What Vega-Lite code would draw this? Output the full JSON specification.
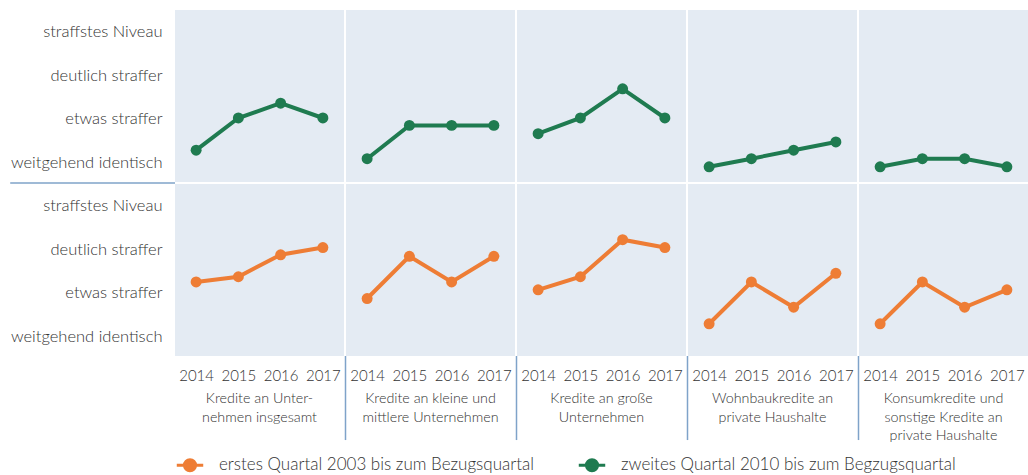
{
  "$schema": "https://vega.github.io/schema/vega-lite/v6.json",
  "padding": {"left": 5, "top": 10, "right": 0, "bottom": 0},
  "background": "white",
  "bounds": "flush",
  "data": {"values": [
    {"series": "zweites Quartal 2010 bis zum Begzugsquartal", "cat": "Kredite an Unter-|nehmen insgesamt", "year": 2014, "v": 1.28},
    {"series": "zweites Quartal 2010 bis zum Begzugsquartal", "cat": "Kredite an Unter-|nehmen insgesamt", "year": 2015, "v": 2.02},
    {"series": "zweites Quartal 2010 bis zum Begzugsquartal", "cat": "Kredite an Unter-|nehmen insgesamt", "year": 2016, "v": 2.36},
    {"series": "zweites Quartal 2010 bis zum Begzugsquartal", "cat": "Kredite an Unter-|nehmen insgesamt", "year": 2017, "v": 2.02},
    {"series": "zweites Quartal 2010 bis zum Begzugsquartal", "cat": "Kredite an kleine und|mittlere Unternehmen", "year": 2014, "v": 1.085},
    {"series": "zweites Quartal 2010 bis zum Begzugsquartal", "cat": "Kredite an kleine und|mittlere Unternehmen", "year": 2015, "v": 1.85},
    {"series": "zweites Quartal 2010 bis zum Begzugsquartal", "cat": "Kredite an kleine und|mittlere Unternehmen", "year": 2016, "v": 1.85},
    {"series": "zweites Quartal 2010 bis zum Begzugsquartal", "cat": "Kredite an kleine und|mittlere Unternehmen", "year": 2017, "v": 1.85},
    {"series": "zweites Quartal 2010 bis zum Begzugsquartal", "cat": "Kredite an große|Unternehmen", "year": 2014, "v": 1.66},
    {"series": "zweites Quartal 2010 bis zum Begzugsquartal", "cat": "Kredite an große|Unternehmen", "year": 2015, "v": 2.02},
    {"series": "zweites Quartal 2010 bis zum Begzugsquartal", "cat": "Kredite an große|Unternehmen", "year": 2016, "v": 2.69},
    {"series": "zweites Quartal 2010 bis zum Begzugsquartal", "cat": "Kredite an große|Unternehmen", "year": 2017, "v": 2.02},
    {"series": "zweites Quartal 2010 bis zum Begzugsquartal", "cat": "Wohnbaukredite an|private Haushalte", "year": 2014, "v": 0.9},
    {"series": "zweites Quartal 2010 bis zum Begzugsquartal", "cat": "Wohnbaukredite an|private Haushalte", "year": 2015, "v": 1.085},
    {"series": "zweites Quartal 2010 bis zum Begzugsquartal", "cat": "Wohnbaukredite an|private Haushalte", "year": 2016, "v": 1.28},
    {"series": "zweites Quartal 2010 bis zum Begzugsquartal", "cat": "Wohnbaukredite an|private Haushalte", "year": 2017, "v": 1.47},
    {"series": "zweites Quartal 2010 bis zum Begzugsquartal", "cat": "Konsumkredite und|sonstige Kredite an|private Haushalte", "year": 2014, "v": 0.9},
    {"series": "zweites Quartal 2010 bis zum Begzugsquartal", "cat": "Konsumkredite und|sonstige Kredite an|private Haushalte", "year": 2015, "v": 1.085},
    {"series": "zweites Quartal 2010 bis zum Begzugsquartal", "cat": "Konsumkredite und|sonstige Kredite an|private Haushalte", "year": 2016, "v": 1.085},
    {"series": "zweites Quartal 2010 bis zum Begzugsquartal", "cat": "Konsumkredite und|sonstige Kredite an|private Haushalte", "year": 2017, "v": 0.9},
    {"series": "erstes Quartal 2003 bis zum Bezugsquartal", "cat": "Kredite an Unter-|nehmen insgesamt", "year": 2014, "v": 2.25},
    {"series": "erstes Quartal 2003 bis zum Bezugsquartal", "cat": "Kredite an Unter-|nehmen insgesamt", "year": 2015, "v": 2.37},
    {"series": "erstes Quartal 2003 bis zum Bezugsquartal", "cat": "Kredite an Unter-|nehmen insgesamt", "year": 2016, "v": 2.875},
    {"series": "erstes Quartal 2003 bis zum Bezugsquartal", "cat": "Kredite an Unter-|nehmen insgesamt", "year": 2017, "v": 3.04},
    {"series": "erstes Quartal 2003 bis zum Bezugsquartal", "cat": "Kredite an kleine und|mittlere Unternehmen", "year": 2014, "v": 1.87},
    {"series": "erstes Quartal 2003 bis zum Bezugsquartal", "cat": "Kredite an kleine und|mittlere Unternehmen", "year": 2015, "v": 2.84},
    {"series": "erstes Quartal 2003 bis zum Bezugsquartal", "cat": "Kredite an kleine und|mittlere Unternehmen", "year": 2016, "v": 2.25},
    {"series": "erstes Quartal 2003 bis zum Bezugsquartal", "cat": "Kredite an kleine und|mittlere Unternehmen", "year": 2017, "v": 2.84},
    {"series": "erstes Quartal 2003 bis zum Bezugsquartal", "cat": "Kredite an große|Unternehmen", "year": 2014, "v": 2.07},
    {"series": "erstes Quartal 2003 bis zum Bezugsquartal", "cat": "Kredite an große|Unternehmen", "year": 2015, "v": 2.37},
    {"series": "erstes Quartal 2003 bis zum Bezugsquartal", "cat": "Kredite an große|Unternehmen", "year": 2016, "v": 3.22},
    {"series": "erstes Quartal 2003 bis zum Bezugsquartal", "cat": "Kredite an große|Unternehmen", "year": 2017, "v": 3.04},
    {"series": "erstes Quartal 2003 bis zum Bezugsquartal", "cat": "Wohnbaukredite an|private Haushalte", "year": 2014, "v": 1.29},
    {"series": "erstes Quartal 2003 bis zum Bezugsquartal", "cat": "Wohnbaukredite an|private Haushalte", "year": 2015, "v": 2.25},
    {"series": "erstes Quartal 2003 bis zum Bezugsquartal", "cat": "Wohnbaukredite an|private Haushalte", "year": 2016, "v": 1.67},
    {"series": "erstes Quartal 2003 bis zum Bezugsquartal", "cat": "Wohnbaukredite an|private Haushalte", "year": 2017, "v": 2.45},
    {"series": "erstes Quartal 2003 bis zum Bezugsquartal", "cat": "Konsumkredite und|sonstige Kredite an|private Haushalte", "year": 2014, "v": 1.29},
    {"series": "erstes Quartal 2003 bis zum Bezugsquartal", "cat": "Konsumkredite und|sonstige Kredite an|private Haushalte", "year": 2015, "v": 2.25},
    {"series": "erstes Quartal 2003 bis zum Bezugsquartal", "cat": "Konsumkredite und|sonstige Kredite an|private Haushalte", "year": 2016, "v": 1.67},
    {"series": "erstes Quartal 2003 bis zum Bezugsquartal", "cat": "Konsumkredite und|sonstige Kredite an|private Haushalte", "year": 2017, "v": 2.07}
  ]},
  "facet": {
    "row": {
      "field": "series", "type": "nominal",
      "sort": ["zweites Quartal 2010 bis zum Begzugsquartal", "erstes Quartal 2003 bis zum Bezugsquartal"],
      "header": {"labels": false, "title": null}
    },
    "column": {
      "field": "cat", "type": "nominal",
      "sort": ["Kredite an Unter-|nehmen insgesamt", "Kredite an kleine und|mittlere Unternehmen", "Kredite an große|Unternehmen", "Wohnbaukredite an|private Haushalte", "Konsumkredite und|sonstige Kredite an|private Haushalte"],
      "header": {
        "title": null,
        "labelOrient": "bottom",
        "labelExpr": "split(datum.value, '|')",
        "labelFont": "Lato",
        "labelFontWeight": 300,
        "labelFontSize": 14.3,
        "labelColor": "#333333",
        "labelLineHeight": 18.5,
        "labelPadding": 9,
        "labelBaseline": "top"
      }
    }
  },
  "spacing": {"row": 2, "column": 2},
  "spec": {
    "width": 169,
    "height": 172,
    "layer": [
      {
        "mark": {"type": "line", "strokeWidth": 4},
        "encoding": {
          "x": {"field": "year", "type": "quantitative", "scale": {"domain": [2013.5, 2017.5], "nice": false, "zero": false},
            "axis": {"values": [2014, 2015, 2016, 2017], "format": "d", "title": null}},
          "y": {"field": "v", "type": "quantitative", "scale": {"domain": [0.55, 4.5], "nice": false, "zero": false},
            "axis": {"values": [1, 2, 3, 4], "title": null,
              "labelExpr": "datum.value == 1 ? 'weitgehend identisch' : datum.value == 2 ? 'etwas straffer' : datum.value == 3 ? 'deutlich straffer' : 'straffstes Niveau'"}},
          "color": {"field": "series", "type": "nominal",
            "scale": {"domain": ["erstes Quartal 2003 bis zum Bezugsquartal", "zweites Quartal 2010 bis zum Begzugsquartal"], "range": ["#ee7d35", "#1f7b50"]},
            "legend": {
              "symbolType": "M-1,0L1,0M-0.42,0A0.42,0.42 0 1,1 0.42,0A0.42,0.42 0 1,1 -0.42,0Z",
              "encode": {"symbols": {"update": {"fill": {"scale": "color", "field": "value"}, "stroke": {"scale": "color", "field": "value"}, "strokeWidth": {"value": 3}, "opacity": {"value": 1}}}}
            }}
        }
      },
      {
        "mark": {"type": "point", "filled": true, "size": 120, "opacity": 1},
        "encoding": {
          "x": {"field": "year", "type": "quantitative"},
          "y": {"field": "v", "type": "quantitative"},
          "color": {"field": "series", "type": "nominal"}
        }
      },
      {
        "transform": [
          {"filter": "datum.year == 2017 && datum.series == 'erstes Quartal 2003 bis zum Bezugsquartal' && indexof(datum.cat, 'Konsum') < 0"}
        ],
        "mark": {"type": "rule", "color": "#7fa3c9", "strokeWidth": 1.5, "clip": false, "xOffset": 1.5},
        "encoding": {
          "x": {"datum": 2017.5},
          "y": {"datum": 0.55},
          "y2": {"datum": -1.38}
        }
      },
      {
        "transform": [
          {"filter": "datum.year == 2014 && datum.series == 'zweites Quartal 2010 bis zum Begzugsquartal' && indexof(datum.cat, 'Unter-|') >= 0"}
        ],
        "mark": {"type": "rule", "color": "#7fa3c9", "strokeWidth": 1.5, "clip": false, "yOffset": 1},
        "encoding": {
          "x": {"datum": 2009.6},
          "x2": {"datum": 2013.5},
          "y": {"datum": 0.55}
        }
      }
    ]
  },
  "resolve": {"scale": {"x": "shared", "y": "shared"}},
  "config": {
    "view": {"fill": "#e4ebf3", "stroke": null},
    "font": "Lato",
    "axisX": {
      "labelFont": "Lato",
      "labelFontWeight": 300,
      "labelFontSize": 15,
      "labelColor": "#333333",
      "labelPadding": 12,
      "domain": false,
      "ticks": false,
      "grid": false,
      "labelFlush": false,
      "labelOverlap": false
    },
    "axisY": {
      "labelFont": "Lato",
      "labelFontWeight": 300,
      "labelFontSize": 16.5,
      "labelColor": "#333333",
      "labelPadding": 13,
      "domain": false,
      "ticks": false,
      "grid": false,
      "minExtent": 170,
      "maxExtent": 170,
      "labelFlush": false,
      "labelOverlap": false
    },
    "legend": {
      "orient": "bottom",
      "direction": "horizontal",
      "title": null,
      "labelFont": "Lato",
      "labelFontWeight": 300,
      "labelFontSize": 17,
      "labelColor": "#333333",
      "labelLimit": 500,
      "symbolSize": 700,
      "symbolStrokeWidth": 3,
      "columnPadding": 37,
      "labelOffset": 14,
      "offset": 6
    }
  }
}
